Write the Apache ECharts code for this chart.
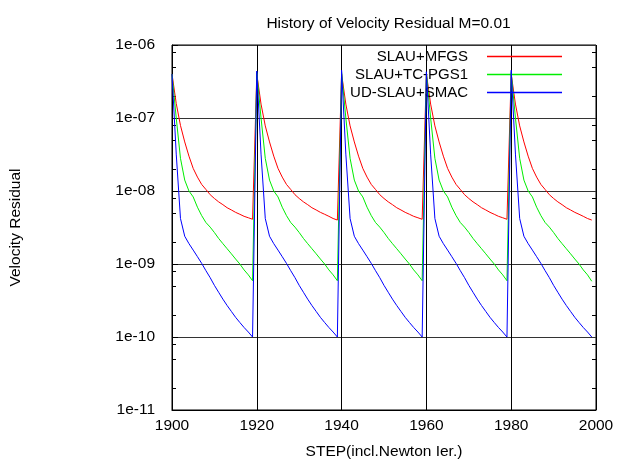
<!DOCTYPE html>
<html>
<head>
<meta charset="utf-8">
<script src="https://cdn.jsdelivr.net/npm/echarts@6/dist/echarts.min.js"></script>
<style>
html,body{margin:0;padding:0;background:#fff;}
#chart{width:618px;height:465px;}
</style>
</head>
<body>
<div id="chart"></div>
<script>
const titleText = 'History of Velocity Residual M=0.01';
const xName = 'STEP(incl.Newton Ier.)';
const yName = 'Velocity Residual';
const seriesNames = ['SLAU+MFGS', 'SLAU+TC-PGS1', 'UD-SLAU+SMAC'];
const firstStep = 1900;
const xTicks = [1900, 1920, 1940, 1960, 1980, 2000];
const yTicks = [1e-11, 1e-10, 1e-9, 1e-8, 1e-7, 1e-6];
const yMinorTicks = [2e-11,5e-11,8e-11, 2e-10,5e-10,8e-10, 2e-9,5e-9,8e-9, 2e-8,5e-8,8e-8, 2e-7,5e-7,8e-7];

const redValues = [
  4.0e-7,1.58e-7,7.9e-8,4.7e-8,3.0e-8,2.04e-8,1.55e-8,1.23e-8,1.05e-8,8.9e-9,7.9e-9,7.1e-9,6.5e-9,5.9e-9,5.5e-9,5.1e-9,4.8e-9,4.5e-9,4.3e-9,4.1e-9,
  4.0e-7,1.55e-7,7.8e-8,4.7e-8,3.0e-8,2.04e-8,1.55e-8,1.23e-8,1.05e-8,8.9e-9,7.9e-9,7.1e-9,6.5e-9,5.9e-9,5.5e-9,5.1e-9,4.8e-9,4.5e-9,4.2e-9,4.0e-9,
  4.0e-7,1.55e-7,7.8e-8,4.7e-8,3.0e-8,2.04e-8,1.55e-8,1.23e-8,1.05e-8,8.9e-9,7.9e-9,7.1e-9,6.5e-9,5.9e-9,5.5e-9,5.1e-9,4.8e-9,4.5e-9,4.3e-9,4.1e-9,
  4.0e-7,1.55e-7,7.8e-8,4.7e-8,3.0e-8,2.04e-8,1.55e-8,1.23e-8,1.05e-8,8.9e-9,7.9e-9,7.1e-9,6.5e-9,5.9e-9,5.5e-9,5.1e-9,4.8e-9,4.5e-9,4.3e-9,4.1e-9,
  4.0e-7,1.55e-7,7.8e-8,4.7e-8,3.0e-8,2.04e-8,1.55e-8,1.23e-8,1.05e-8,8.9e-9,7.9e-9,7.1e-9,6.5e-9,5.9e-9,5.5e-9,5.1e-9,4.8e-9,4.5e-9,4.2e-9,4.0e-9
];
const greenValues = [
  4.0e-7,1.0e-7,2.8e-8,1.41e-8,1.0e-8,8.3e-9,6.0e-9,4.6e-9,3.7e-9,3.2e-9,2.7e-9,2.24e-9,1.9e-9,1.62e-9,1.38e-9,1.17e-9,1.0e-9,8.3e-10,7.1e-10,5.9e-10,
  4.2e-7,1.0e-7,2.8e-8,1.41e-8,1.0e-8,8.3e-9,6.0e-9,4.6e-9,3.7e-9,3.2e-9,2.7e-9,2.24e-9,1.9e-9,1.62e-9,1.38e-9,1.17e-9,1.0e-9,8.3e-10,7.1e-10,5.9e-10,
  4.2e-7,1.0e-7,2.8e-8,1.41e-8,1.0e-8,8.3e-9,6.0e-9,4.6e-9,3.7e-9,3.2e-9,2.7e-9,2.24e-9,1.9e-9,1.62e-9,1.38e-9,1.17e-9,1.0e-9,8.3e-10,7.1e-10,5.9e-10,
  4.2e-7,1.0e-7,2.8e-8,1.41e-8,1.0e-8,8.3e-9,6.0e-9,4.6e-9,3.7e-9,3.2e-9,2.7e-9,2.24e-9,1.9e-9,1.62e-9,1.38e-9,1.17e-9,1.0e-9,8.3e-10,7.1e-10,5.9e-10,
  4.2e-7,1.0e-7,2.8e-8,1.41e-8,1.0e-8,8.3e-9,6.0e-9,4.6e-9,3.7e-9,3.2e-9,2.7e-9,2.24e-9,1.9e-9,1.62e-9,1.38e-9,1.17e-9,1.0e-9,8.3e-10,7.1e-10,5.8e-10
];
const blueValues = [
  4.0e-7,3.2e-8,4.2e-9,2.4e-9,1.9e-9,1.55e-9,1.26e-9,1.02e-9,8.1e-10,6.5e-10,5.1e-10,4.1e-10,3.3e-10,2.7e-10,2.24e-10,1.86e-10,1.58e-10,1.35e-10,1.17e-10,1.0e-10,
  4.4e-7,3.2e-8,4.2e-9,2.4e-9,1.9e-9,1.55e-9,1.26e-9,1.02e-9,8.1e-10,6.5e-10,5.1e-10,4.1e-10,3.3e-10,2.7e-10,2.24e-10,1.86e-10,1.58e-10,1.35e-10,1.17e-10,1.0e-10,
  4.5e-7,3.2e-8,4.2e-9,2.4e-9,1.9e-9,1.55e-9,1.26e-9,1.02e-9,8.1e-10,6.5e-10,5.1e-10,4.1e-10,3.3e-10,2.7e-10,2.24e-10,1.86e-10,1.58e-10,1.35e-10,1.17e-10,1.0e-10,
  4.3e-7,3.2e-8,4.2e-9,2.4e-9,1.9e-9,1.55e-9,1.26e-9,1.02e-9,8.1e-10,6.5e-10,5.1e-10,4.1e-10,3.3e-10,2.7e-10,2.24e-10,1.86e-10,1.58e-10,1.35e-10,1.17e-10,1.0e-10,
  4.5e-7,3.2e-8,4.2e-9,2.4e-9,1.9e-9,1.55e-9,1.26e-9,1.02e-9,8.1e-10,6.5e-10,5.1e-10,4.1e-10,3.3e-10,2.7e-10,2.24e-10,1.86e-10,1.58e-10,1.35e-10,1.17e-10,1.0e-10
];
const seriesColors = ['#ff0000', '#00ee00', '#0000ff'];

const FONT = '"Liberation Sans", Arial, sans-serif';
function toPairs(vals) { return vals.map((v, i) => [firstStep + i, v]); }
function fmtExp(v) {
  const e = Math.round(Math.log10(v));
  const s = String(Math.abs(e)).padStart(2, '0');
  return '1e' + (e < 0 ? '-' : '+') + s;
}

const chart = echarts.init(document.getElementById('chart'), null, {renderer: 'canvas'});
const allValues = [redValues, greenValues, blueValues];
const legendTops = [49, 67, 85];

const minorAxis = (pos) => ({
  type: 'log', logBase: 10, min: yTicks[0], max: yTicks[yTicks.length - 1],
  position: pos, gridIndex: 0,
  axisLine: {show: false},
  axisLabel: {show: false},
  splitLine: {show: false},
  axisTick: {show: true, inside: true, length: 4, customValues: yMinorTicks, lineStyle: {color: '#000', width: 1}}
});

chart.setOption({
  animation: false,
  backgroundColor: '#fff',
  title: {
    text: titleText, left: 383.5, top: 11, textAlign: 'center',
    textStyle: {fontFamily: FONT, fontSize: 15.5, fontWeight: 'normal', color: '#000'}
  },
  legend: seriesNames.map((n, i) => ({
    data: [n], orient: 'vertical', right: 56, top: legendTops[i], align: 'right',
    icon: 'rect', itemWidth: 75, itemHeight: 1.5, itemGap: 0, padding: 0,
    selectedMode: false,
    textStyle: {fontFamily: FONT, fontSize: 15, color: '#000', padding: [0, 14, 0, 0]}
  })),
  grid: {left: 171, right: 22, top: 45, bottom: 48, show: true, borderColor: '#000', borderWidth: 1, backgroundColor: 'transparent'},
  xAxis: {
    type: 'value', min: xTicks[0], max: xTicks[xTicks.length - 1], interval: 20,
    name: xName, nameLocation: 'middle', nameGap: 34,
    nameTextStyle: {fontFamily: FONT, fontSize: 15.5, color: '#000'},
    axisLine: {show: true, lineStyle: {color: '#000'}},
    axisTick: {show: true, inside: true, length: 6, lineStyle: {color: '#000'}},
    axisLabel: {fontFamily: FONT, fontSize: 15.5, color: '#000', margin: 8, formatter: v => String(v)},
    splitLine: {show: true, lineStyle: {color: '#000', width: 1}}
  },
  yAxis: [{
    type: 'log', logBase: 10, min: yTicks[0], max: yTicks[yTicks.length - 1],
    position: 'left',
    name: yName, nameLocation: 'middle', nameGap: 148, nameRotate: 90,
    nameTextStyle: {fontFamily: FONT, fontSize: 15.5, color: '#000'},
    axisLine: {show: true, lineStyle: {color: '#000'}},
    axisTick: {show: true, inside: true, length: 6, lineStyle: {color: '#000'}},
    axisLabel: {fontFamily: FONT, fontSize: 15.5, color: '#000', margin: 17, formatter: fmtExp, customValues: yTicks},
    splitLine: {show: true, lineStyle: {color: '#333', width: 1}}
  }, minorAxis('left'), minorAxis('right')],
  series: seriesNames.map((n, i) => ({
    name: n, type: 'line', data: toPairs(allValues[i]),
    showSymbol: false, symbol: 'none',
    lineStyle: {color: seriesColors[i], width: 1},
    itemStyle: {color: seriesColors[i]},
    emphasis: {disabled: true}, z: 2 + i
  }))
});
</script>
</body>
</html>
